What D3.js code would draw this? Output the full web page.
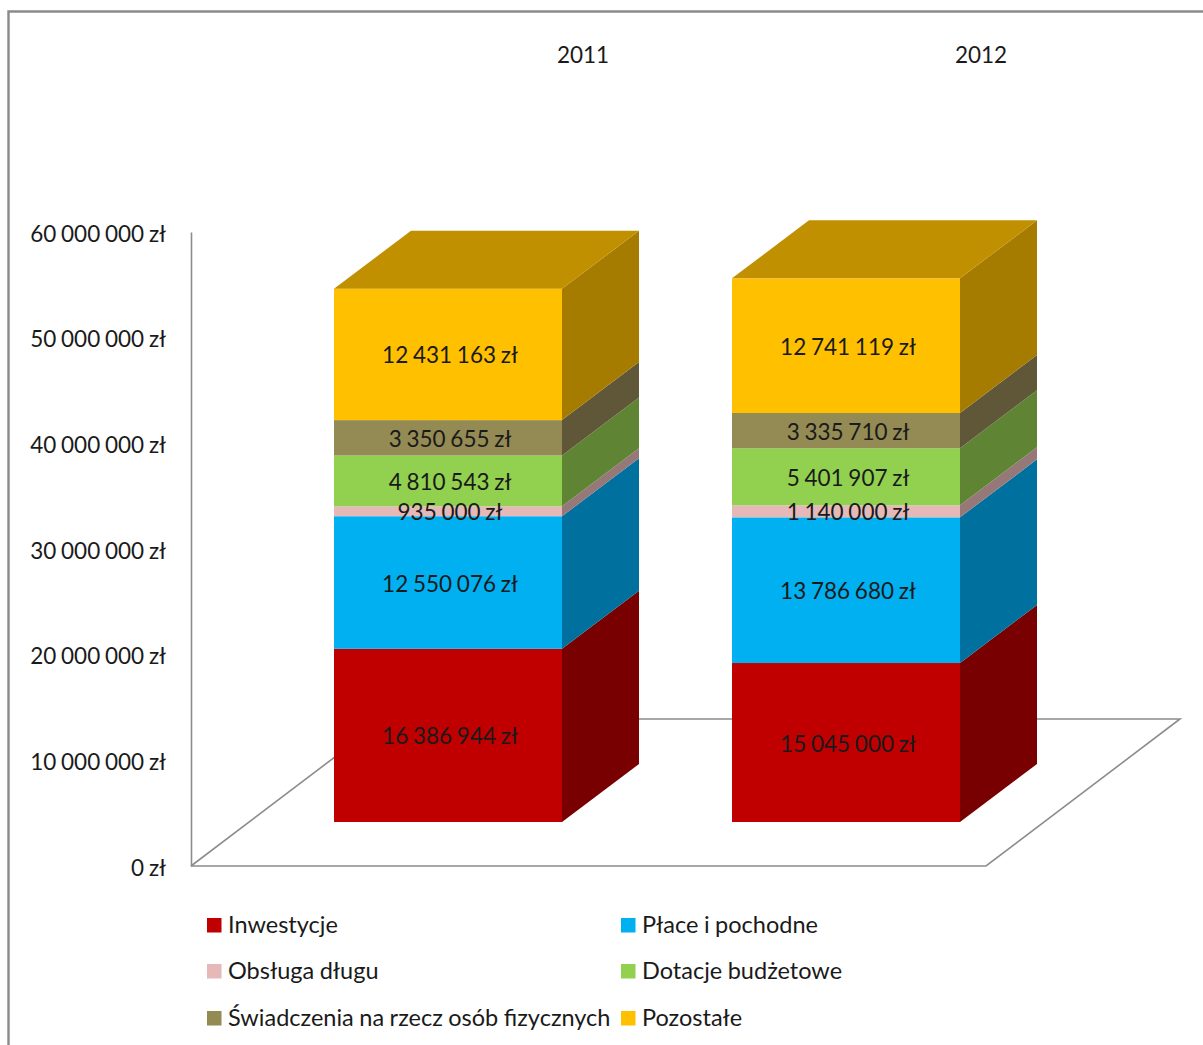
<!DOCTYPE html>
<html>
<head>
<meta charset="utf-8">
<script src="https://cdn.jsdelivr.net/npm/d3@7"></script>
<style>
  html, body { margin: 0; padding: 0; background: #fff; overflow: hidden; }
  text { font-family: Lato, "Noto Sans", sans-serif; fill: #1a1a1a; }
</style>
</head>
<body>
<svg id="chart" width="1203" height="1045"></svg>
<script>
// Budget structure by year, in zł
const years = ["2011", "2012"];
const seriesNames = ["Inwestycje", "Płace i pochodne", "Obsługa długu", "Dotacje budżetowe", "Świadczenia na rzecz osób fizycznych", "Pozostałe"];
const values2011 = [16386944, 12550076, 935000, 4810543, 3350655, 12431163];
const values2012 = [15045000, 13786680, 1140000, 5401907, 3335710, 12741119];
const frontColors = ["#C00000", "#00B0F0", "#E6B9B8", "#92D050", "#948A54", "#FFC000"];
const sideColors = ["#780000", "#00719E", "#967878", "#5F8534", "#5F5738", "#A67C00"];
const topColor = "#C09000";
const axisTicks = [0, 10000000, 20000000, 30000000, 40000000, 50000000, 60000000];

const svg = d3.select("#chart");
const lineColor = "#8c8c8c";
const numberFont = 22.5, numberSpacing = "-1px";

const locale = d3.formatLocale({ decimal: ",", thousands: " ", grouping: [3], currency: ["", " zł"] });
const zl = v => locale.format(",")(v) + " zł";

// Oblique projection: wall plane sits behind the bars, floor recedes up and to the right
const floorY = 866, wallX = 191;
const floorDepth = { dx: 194, dy: -147 };
const barOffsetY = -44;          // bars stand this far behind the front floor edge
const barDepth = { dx: 77, dy: -58 };
const y = d3.scaleLinear().domain([0, 60000000]).range([floorY, 232]);
const x = d3.scaleBand().domain(years).range([334, 960]).paddingInner(170 / 228 / (1 + 170 / 228));

// Chart frame: top and left edges only are in view
svg.append("path")
  .attr("d", d3.line()([[8.5, 1045], [8.5, 11.5], [1203, 11.5]]))
  .attr("fill", "none").attr("stroke", "#8a8a8a").attr("stroke-width", 2.4);

// Floor parallelogram
const floorRight = 986;
svg.append("path")
  .attr("d", d3.line()([
    [wallX, floorY], [floorRight, floorY],
    [floorRight + floorDepth.dx, floorY + floorDepth.dy],
    [wallX + floorDepth.dx, floorY + floorDepth.dy], [wallX, floorY]
  ]))
  .attr("fill", "#fff").attr("stroke", lineColor).attr("stroke-width", 1.6);

// Value axis along the wall edge
const axis = svg.append("g")
  .attr("transform", `translate(${wallX},0)`)
  .call(d3.axisLeft(y).tickValues(axisTicks).tickFormat(zl).tickSize(0).tickPadding(25));
axis.select(".domain").attr("stroke", lineColor).attr("stroke-width", 1.6);
axis.selectAll("text").attr("font-size", numberFont).attr("word-spacing", numberSpacing)
  .attr("fill", "#1a1a1a").attr("dy", "0.4em");

// Stacked prisms, one per year
const stackRows = years.map((yr, i) => {
  const row = { year: yr };
  seriesNames.forEach((s, j) => { row[s] = (i === 0 ? values2011 : values2012)[j]; });
  return row;
});
const layers = d3.stack().keys(seriesNames)(stackRows);
const by = v => y(v) + barOffsetY;
const bw = x.bandwidth();

const barGroups = svg.selectAll("g.year").data(years).join("g").attr("class", "year");

barGroups.each(function (yr, yi) {
  const g = d3.select(this);
  const x0 = x(yr), x1 = x0 + bw;
  layers.forEach((layer, li) => {
    const [lo, hi] = layer[yi];
    g.append("path")
      .attr("d", d3.line()([
        [x1, by(lo)], [x1 + barDepth.dx, by(lo) + barDepth.dy],
        [x1 + barDepth.dx, by(hi) + barDepth.dy], [x1, by(hi)]
      ]) + "Z")
      .attr("fill", sideColors[li]);
    g.append("rect")
      .attr("x", x0).attr("y", by(hi))
      .attr("width", bw).attr("height", by(lo) - by(hi))
      .attr("fill", frontColors[li]);
  });
  const total = layers[layers.length - 1][yi][1];
  g.append("path")
    .attr("d", d3.line()([
      [x0, by(total)], [x0 + barDepth.dx, by(total) + barDepth.dy],
      [x1 + barDepth.dx, by(total) + barDepth.dy], [x1, by(total)]
    ]) + "Z")
    .attr("fill", topColor);
  layers.forEach((layer, li) => {
    const [lo, hi] = layer[yi];
    g.append("text")
      .attr("x", x0 + bw / 2 + 2).attr("y", (by(lo) + by(hi)) / 2)
      .attr("dy", "0.4em").attr("text-anchor", "middle")
      .attr("font-size", numberFont).attr("word-spacing", numberSpacing)
      .text(zl(hi - lo));
  });
  // Year caption above the prism
  g.append("text")
    .attr("x", x0 + bw / 2 + 135).attr("y", 55)
    .attr("dy", "0.36em").attr("text-anchor", "middle")
    .attr("font-size", 22.5)
    .text(yr);
});

// Legend, two columns
const legendCols = [207, 621];
const legendRows = [925, 971, 1018];
const legend = svg.selectAll("g.legend").data(seriesNames).join("g")
  .attr("class", "legend")
  .attr("transform", (d, i) => `translate(${legendCols[i % 2]},${legendRows[Math.floor(i / 2)]})`);
legend.append("rect").attr("x", 0).attr("y", -7).attr("width", 14.5).attr("height", 14.5)
  .attr("fill", (d, i) => frontColors[i]);
legend.append("text").attr("x", 21).attr("y", 0).attr("dy", "0.32em")
  .attr("font-size", 23.5).attr("word-spacing", "-0.5px")
  .text(d => d);
</script>
</body>
</html>
